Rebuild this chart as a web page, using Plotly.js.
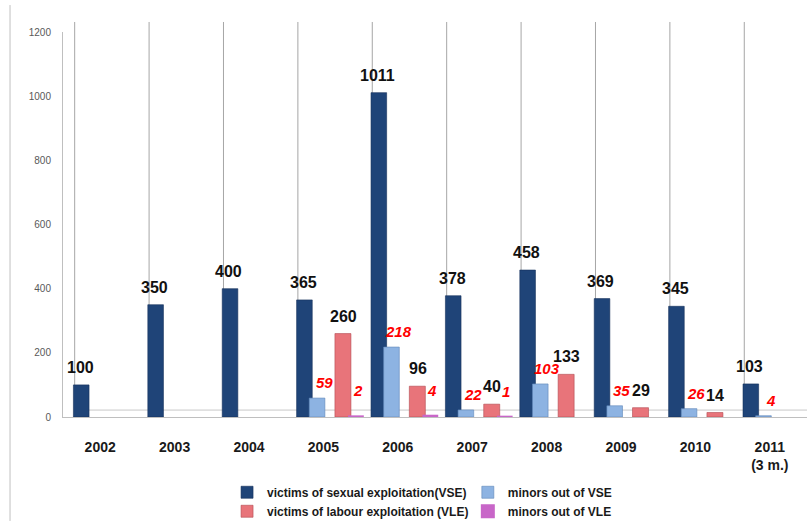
<!DOCTYPE html>
<html>
<head>
<meta charset="utf-8">
<script src="https://cdn.plot.ly/plotly-3.0.1.min.js"></script>
<style>html,body{margin:0;padding:0;background:#fff;}#chart{width:808px;height:521px;}</style>
</head>
<body>
<div id="chart"></div>
<script>
// ---- data ----
const years = ["2002", "2003", "2004", "2005", "2006", "2007", "2008", "2009", "2010", "2011<br>(3 m.)"];
const vse      = [100, 350, 400, 365, 1011, 378, 458, 369, 345, 103];
const minorsVse = [null, null, null, 59, 218, 22, 103, 35, 26, 4];
const vle      = [null, null, null, 260, 96, 40, 133, 29, 14, null];
const minorsVle = [null, null, null, 2, 4, 1, null, null, null, null];
const seriesNames = [
  "victims of sexual exploitation(VSE)",
  "minors out of VSE",
  "victims of labour exploitation (VLE)",
  "minors out of VLE"
];
const yTicks = [0, 200, 400, 600, 800, 1000, 1200];

// ---- styling ----
const colors = ["#1f4478", "#8db3e2", "#e8747a", "#c866c8"];
const edge   = ["#15305a", "#5f86b8", "#b24a50", "#a040a0"];
const offsets = [-0.36, -0.19, 0.155, 0.345];
const widths  = [0.21, 0.21, 0.215, 0.185];
const xi = years.map((_, i) => i);

const allSeries = [vse, minorsVse, vle, minorsVle];
const legends = ["legend", "legend2", "legend", "legend2"];
const traces = allSeries.map((vals, k) => ({
  type: "bar",
  name: seriesNames[k],
  x: xi,
  y: vals,
  offset: offsets[k],
  width: widths[k],
  legend: legends[k],
  marker: {color: colors[k], line: {color: k === 3 ? colors[3] : edge[k], width: k === 3 ? 2 : 0.6}},
  hoverinfo: "x+y"
}));

// ---- data labels ----
const labelCfg = [
  {dx: -0.27, ys: 7,  color: "#111", style: "normal", size: 16},
  {dx: 0.01,  ys: 5,  color: "#ff0000", style: "italic", size: 15},
  {dx: 0.27,  ys: 7,  color: "#111", style: "normal", size: 16},
  {dx: 0.46,  ys: 15, color: "#ff0000", style: "italic", size: 15}
];
const annotations = [];
allSeries.forEach((vals, k) => {
  vals.forEach((v, i) => {
    if (v === null) return;
    const c = labelCfg[k];
    annotations.push({
      x: i + c.dx, y: v, xref: "x", yref: "y",
      text: String(v), showarrow: false,
      xanchor: "center", yanchor: "bottom", yshift: c.ys,
      font: {family: "Liberation Sans, Arial, sans-serif", size: c.size, color: c.color, weight: "bold", style: c.style}
    });
  });
});

// ---- decorative back wall / floor ----
const shapes = [];
xi.forEach(i => {
  shapes.push({type: "line", xref: "x", yref: "paper", x0: i - 0.343, x1: i - 0.343, y0: 0.018, y1: 1.026,
    line: {color: "#a6a6a6", width: 1}, layer: "below"});
});
shapes.push({type: "line", xref: "x", yref: "paper", x0: -0.343, x1: 9.5, y0: 0.018, y1: 0.018,
  line: {color: "#c8c8c8", width: 1}, layer: "below"});
shapes.push({type: "line", xref: "paper", yref: "paper", x0: -0.0712, x1: -0.0712, y0: -0.27, y1: 1.07,
  line: {color: "#c0c0c0", width: 1}});

const legendFont = {family: "Liberation Sans, Arial, sans-serif", size: 12, color: "#1a1a1a", weight: "bold"};

const layout = {
  width: 808, height: 521,
  margin: {l: 63, r: 1, t: 32, b: 104, autoexpand: false},
  paper_bgcolor: "#fff", plot_bgcolor: "rgba(0,0,0,0)",
  font: {family: "Liberation Sans, Arial, sans-serif"},
  barmode: "overlay",
  xaxis: {
    range: [-0.5, 9.5], tickmode: "array", tickvals: xi, ticktext: years,
    showgrid: false, zeroline: false, showline: true, linecolor: "#bfbfbf", linewidth: 1,
    ticks: "", ticklabelstandoff: 17, automargin: false,
    tickfont: {size: 14, color: "#1a1a1a", weight: "bold"}
  },
  yaxis: {
    range: [0, 1200], tickmode: "array", tickvals: yTicks,
    showgrid: false, zeroline: false, showline: true, linecolor: "#bfbfbf", linewidth: 1,
    ticks: "", ticklabelstandoff: 9, automargin: false,
    tickfont: {size: 10, color: "#595959"}
  },
  legend: {
    xref: "container", yref: "container", x: 0.281, y: 0.083, xanchor: "left", yanchor: "top",
    orientation: "v", font: legendFont, bgcolor: "rgba(0,0,0,0)", tracegroupgap: 0
  },
  legend2: {
    xref: "container", yref: "container", x: 0.579, y: 0.083, xanchor: "left", yanchor: "top",
    orientation: "v", font: legendFont, bgcolor: "rgba(0,0,0,0)", tracegroupgap: 0
  },
  showlegend: true,
  annotations: annotations,
  shapes: shapes
};

Plotly.newPlot("chart", traces, layout, {displayModeBar: false, staticPlot: true});
</script>
</body>
</html>
